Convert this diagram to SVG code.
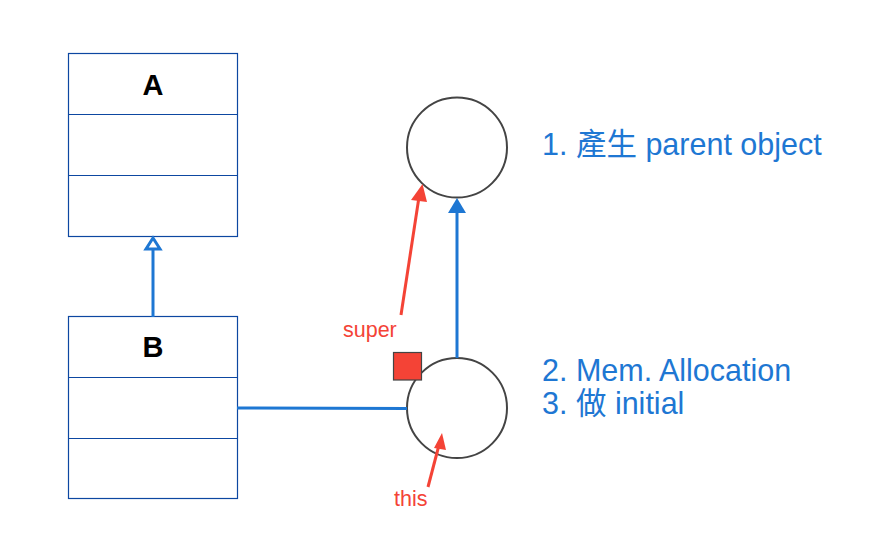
<svg xmlns="http://www.w3.org/2000/svg" width="872" height="558" viewBox="0 0 872 558">
<style>
.box{fill:#fff;stroke:#0d47a1;stroke-width:1.2}
.cls{font-family:"Liberation Sans",Arial,sans-serif;font-weight:bold;font-size:29px;fill:#000;text-anchor:middle}
.circ{fill:#fff;stroke:#444;stroke-width:2}
.blue{stroke:#1e77d3;stroke-width:3;fill:none}
.red{stroke:#f44336;stroke-width:3;fill:none}
.note{font-family:"Liberation Sans",Arial,"Noto Sans CJK TC",sans-serif;font-size:30.5px;fill:#1e77d3}
.rlab{font-family:"Liberation Sans",Arial,sans-serif;font-size:21.5px;fill:#f44336}
</style>
<rect width="872" height="558" fill="#fff"/>
<g id="A">
<rect class="box" x="68.5" y="53.5" width="169" height="183"/>
<line class="box" x1="68.5" y1="114.5" x2="237.5" y2="114.5"/>
<line class="box" x1="68.5" y1="175.5" x2="237.5" y2="175.5"/>
<text class="cls" x="153" y="95">A</text>
</g>
<g id="B">
<rect class="box" x="68.5" y="316.5" width="169" height="182"/>
<line class="box" x1="68.5" y1="377.5" x2="237.5" y2="377.5"/>
<line class="box" x1="68.5" y1="438.5" x2="237.5" y2="438.5"/>
<text class="cls" x="153" y="357">B</text>
</g>
<g id="parent">
<circle class="circ" cx="457" cy="147.5" r="50"/>
</g>
<g id="child">
<circle class="circ" cx="457" cy="408" r="50"/>
</g>
<g id="connectors">
<line class="blue" x1="153" y1="317" x2="153" y2="249"/>
<polygon points="153,238 146,249 160,249" fill="#fff" stroke="#1e77d3" stroke-width="3"/>
<line class="blue" x1="237" y1="408" x2="407" y2="408.5"/>
<line class="blue" x1="457" y1="358" x2="457" y2="210"/>
<polygon points="457,198 448,213 466,213" fill="#1e77d3"/>
<line class="red" x1="401" y1="315" x2="419" y2="197"/>
<polygon points="422.5,184 411,200 427,202" fill="#f44336"/>
<line class="red" x1="428" y1="487" x2="439" y2="445"/>
<polygon points="442,433 434,448 446,450" fill="#f44336"/>
</g>
<g id="marker">
<rect x="393.5" y="352.5" width="28" height="27.5" fill="#f44336" stroke="#444" stroke-width="1.2"/>
</g>
<g id="labels">
<text class="rlab" x="343" y="337">super</text>
<text class="rlab" x="394" y="506">this</text>
<text class="note" x="542" y="155">1. 產生 parent object</text>
<text class="note" x="542" y="381">2. Mem. Allocation</text>
<text class="note" x="542" y="414">3. 做 initial</text>
</g>
</svg>
